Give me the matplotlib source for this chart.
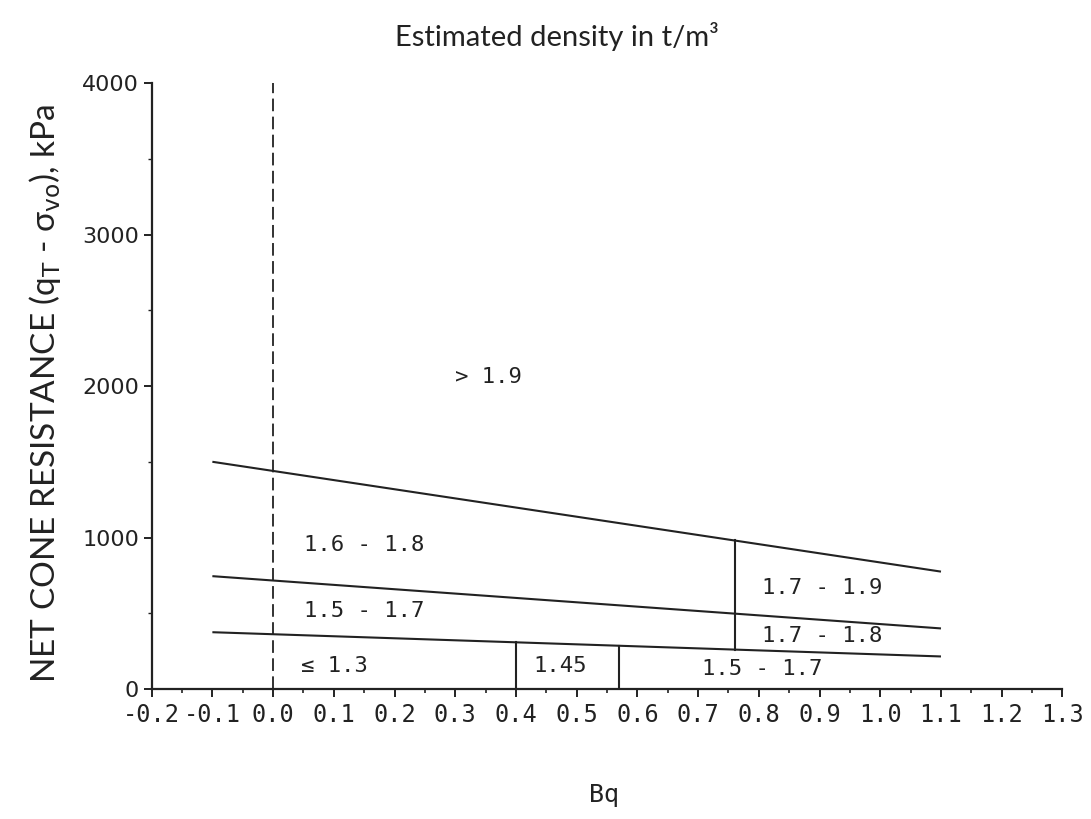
import numpy as np
import matplotlib
matplotlib.use("Agg")
import matplotlib.pyplot as plt
from matplotlib.ticker import MultipleLocator, FixedLocator

# ---- data ----
boundary_x = [-0.1, 1.1]
upper_boundary = [1500, 775]
middle_boundary = [745, 400]
lower_boundary = [375, 215]
dashed_x = 0.0
low_dividers = [0.4, 0.57]
mid_divider = 0.76

region_labels = ["> 1.9", "1.6 - 1.8", "1.5 - 1.7", "\u2264 1.3", "1.45",
                 "1.7 - 1.9", "1.7 - 1.8", "1.5 - 1.7"]
label_x = [0.30, 0.051, 0.051, 0.046, 0.428, 0.806, 0.806, 0.706]
label_y = [2059, 950, 515, 150, 154, 669, 350, 130]

x_ticks = [-0.2, -0.1, 0.0, 0.1, 0.2, 0.3, 0.4, 0.5, 0.6, 0.7, 0.8, 0.9, 1.0, 1.1, 1.2, 1.3]
y_ticks = [0, 1000, 2000, 3000, 4000]

ink = "#222222"
mono = "DejaVu Sans Mono"

fig = plt.figure(figsize=(10.91, 8.19), dpi=100)
ax = fig.add_axes([0.1390, 0.1587, 0.8348, 0.7399])
ax.set_xlim(-0.2, 1.3)
ax.set_ylim(0, 4000)

for s in ["top", "right"]:
    ax.spines[s].set_visible(False)
for s in ["left", "bottom"]:
    ax.spines[s].set_linewidth(1.6)
    ax.spines[s].set_color(ink)

# boundary lines
for yy in (upper_boundary, middle_boundary, lower_boundary):
    ax.plot(boundary_x, yy, color=ink, lw=1.5, solid_capstyle="butt")

# dashed vertical at Bq = 0
ax.plot([dashed_x, dashed_x], [0, 4000], color=ink, lw=1.3, ls=(0, (7, 3)))

# vertical dividers
for xv in low_dividers:
    ytop = np.interp(xv, boundary_x, lower_boundary)
    ax.plot([xv, xv], [0, ytop], color=ink, lw=1.5)
ylo = np.interp(mid_divider, boundary_x, lower_boundary)
yhi = np.interp(mid_divider, boundary_x, upper_boundary)
ax.plot([mid_divider, mid_divider], [ylo, yhi], color=ink, lw=1.5)

# region labels
for t, xx, yy in zip(region_labels, label_x, label_y):
    ax.text(xx, yy, t, ha="left", va="center", fontsize=16, family=mono, color=ink)

# ticks
ax.xaxis.set_major_locator(FixedLocator(x_ticks))
ax.xaxis.set_minor_locator(MultipleLocator(0.05))
ax.set_xticklabels([f"{v:.1f}" for v in x_ticks], family=mono, fontsize=17, color=ink)
ax.yaxis.set_major_locator(FixedLocator(y_ticks))
ax.yaxis.set_minor_locator(MultipleLocator(500))
ax.set_yticklabels([str(v) for v in y_ticks], family="DejaVu Sans", fontsize=16, color=ink)
ax.tick_params(axis="x", which="major", direction="out", length=6, width=1.4, pad=4, colors=ink)
ax.tick_params(axis="x", which="minor", direction="out", length=3, width=1.2, colors=ink)
ax.tick_params(axis="y", which="major", direction="out", length=6, width=1.4, pad=3, colors=ink)
ax.tick_params(axis="y", which="minor", direction="out", length=3, width=1.0, colors=ink)

# labels
fig.text(0.510, 0.955, "Estimated density in t/m\u00b3", ha="center", va="center",
         fontsize=21, family=["Lato", "DejaVu Sans"], color=ink)
fig.text(0.041, 0.520, "NET CONE RESISTANCE (q$_\\mathrm{T}$ - \u03c3$_\\mathrm{vo}$), kPa",
         rotation=90, ha="center", va="center", fontsize=24,
         family=["Lato", "DejaVu Sans"], color=ink)
fig.text(0.554, 0.029, "Bq", ha="center", va="center", fontsize=18, family=mono, color=ink)

fig.savefig("out.png", dpi=100, facecolor="white")
